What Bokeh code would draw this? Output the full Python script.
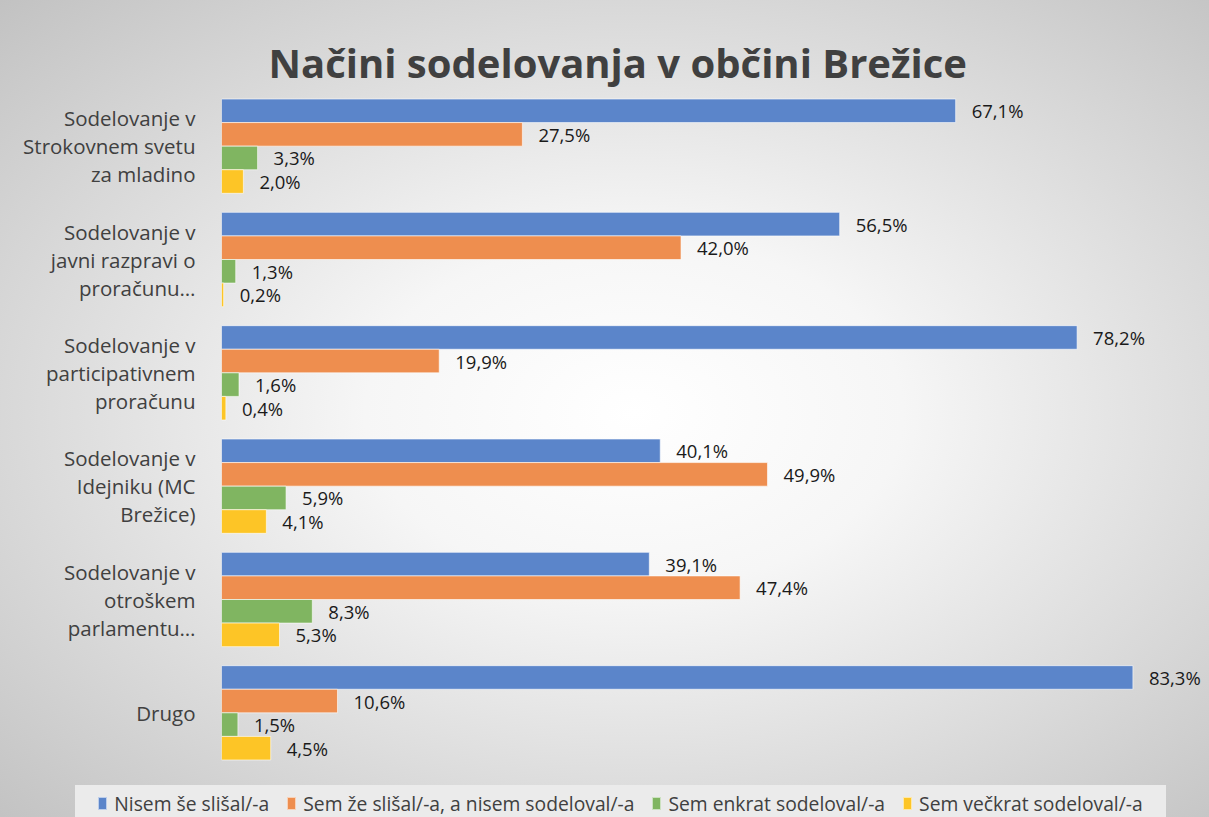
from bokeh.plotting import figure
from bokeh.models import FactorRange, Title, ColumnDataSource, Div
from bokeh.transform import dodge
from bokeh.layouts import column
from bokeh.core.properties import value
from bokeh.embed import file_html
from bokeh.resources import INLINE

# ---- data ----
categories = [
    "Sodelovanje v\nStrokovnem svetu\nza mladino",
    "Sodelovanje v\njavni razpravi o\nproračunu…",
    "Sodelovanje v\nparticipativnem\nproračunu",
    "Sodelovanje v\nIdejniku (MC\nBrežice)",
    "Sodelovanje v\notroškem\nparlamentu…",
    "Drugo",
]
series_names = [
    "Nisem še slišal/-a",
    "Sem že slišal/-a, a nisem sodeloval/-a",
    "Sem enkrat sodeloval/-a",
    "Sem večkrat sodeloval/-a",
]
nisem_se_slisal = [67.1, 56.5, 78.2, 40.1, 39.1, 83.3]
sem_ze_slisal = [27.5, 42.0, 19.9, 49.9, 47.4, 10.6]
sem_enkrat = [3.3, 1.3, 1.6, 5.9, 8.3, 1.5]
sem_veckrat = [2.0, 0.2, 0.4, 4.1, 5.3, 4.5]
colors = ["#5B85CA", "#EE8E4F", "#80B561", "#FDC526"]
title_text = "Načini sodelovanja v občini Brežice"

FONT = "Open Sans"
TXT = "#404040"

p = figure(
    width=1209, height=769,
    y_range=FactorRange(factors=list(reversed(categories)), range_padding=0),
    x_range=(0, 90.3),
    output_backend="svg", toolbar_location=None,
    min_border_left=221, min_border_right=0, min_border_top=89, min_border_bottom=0,
)
p.border_fill_alpha = 0
p.background_fill_alpha = 0
p.outline_line_color = None
p.grid.visible = False
p.xaxis.visible = False

src = ColumnDataSource(dict(
    cat=categories,
    s0=nisem_se_slisal, s1=sem_ze_slisal, s2=sem_enkrat, s3=sem_veckrat,
    l0=[f"{v:.1f}".replace(".", ",") + "%" for v in nisem_se_slisal],
    l1=[f"{v:.1f}".replace(".", ",") + "%" for v in sem_ze_slisal],
    l2=[f"{v:.1f}".replace(".", ",") + "%" for v in sem_enkrat],
    l3=[f"{v:.1f}".replace(".", ",") + "%" for v in sem_veckrat],
))

bw = 0.208
offsets = [1.5 * bw, 0.5 * bw, -0.5 * bw, -1.5 * bw]
for i in range(4):
    p.hbar(y=dodge("cat", offsets[i], range=p.y_range), left=0, right=f"s{i}",
           height=bw, source=src, fill_color=colors[i],
           line_color="white", line_alpha=0.6, line_width=1,
           legend_label=series_names[i])
    p.text(x=f"s{i}", y=dodge("cat", offsets[i], range=p.y_range), text=f"l{i}",
           source=src, x_offset=16, text_baseline="middle", text_align="left",
           text_font=value(FONT), text_font_size="18.5px", text_color="#1a1a1a")
p.legend.visible = False  # legend is shown in the strip below the plot

yax = p.yaxis[0]
yax.axis_line_color = None
yax.major_tick_line_color = None
yax.minor_tick_line_color = None
yax.major_label_text_font = FONT
yax.major_label_text_font_size = "20.5px"
yax.major_label_text_color = TXT
yax.major_label_text_line_height = 1.0
yax.major_label_standoff = 20

p.add_layout(Title(text=title_text, align="left", offset=47, standoff=0,
                   text_font=FONT, text_font_style="bold", text_font_size="40px",
                   text_color=TXT), "above")

# legend strip (HTML)
legend_items = "".join(
    f'<span style="display:inline-flex;align-items:center;margin:0 9px;">'
    f'<span style="display:inline-block;width:9px;height:13px;background:{c};'
    f'border:1px solid rgba(255,255,255,0.6);box-sizing:border-box;margin-right:7px;"></span>'
    f'<span>{name}</span></span>'
    for c, name in zip(colors, series_names)
)
legend_html = (
    f'<div style="margin:11px 0 0 70px;width:1091px;height:37px;background:#ebebeb;'
    f'display:flex;align-items:center;justify-content:center;'
    f'font-family:\'{FONT}\';font-size:19.3px;color:{TXT};white-space:nowrap;">'
    f'{legend_items}</div>'
)
legend_div = Div(text=legend_html, width=1209, height=48)

layout = column(p, legend_div, spacing=0)
layout.styles = {
    "background-image": "radial-gradient(ellipse farthest-corner at 52% 50%, #ffffff 0%, #f6f6f6 30%, #c2c2c2 100%)",
}

open("out.html", "w").write(file_html(layout, INLINE))
